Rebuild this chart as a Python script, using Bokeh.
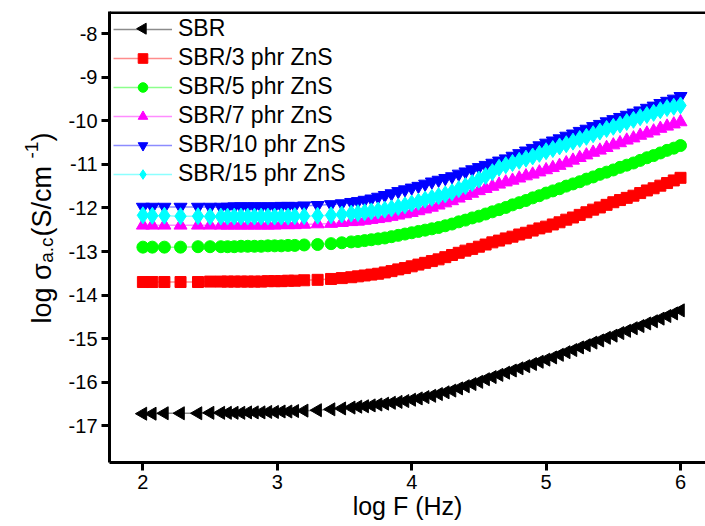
import math
from bokeh.plotting import figure
from bokeh.layouts import row
from bokeh.models import (Range1d, FixedTicker, Label, Legend, LegendItem, Span,
                          PrintfTickFormatter)
from bokeh.embed import file_html
from bokeh.resources import INLINE

# ---------------- data (log F in Hz, log sigma_ac in S/cm) ----------------
LOG_F = [2.00, 2.07, 2.16, 2.28, 2.41, 2.50, 2.58, 2.63, 2.68, 2.73,
         2.78, 2.83, 2.88, 2.93, 2.98, 3.03, 3.08, 3.13, 3.20, 3.30,
         3.40, 3.48, 3.55, 3.60, 3.65, 3.70, 3.75,
         3.80, 3.85, 3.90, 3.95, 4.00, 4.05, 4.10, 4.15, 4.20, 4.25,
         4.30, 4.35, 4.40, 4.45, 4.50, 4.55, 4.60, 4.65, 4.70, 4.75,
         4.80, 4.85, 4.90, 4.95, 5.00, 5.05, 5.10, 5.15, 5.20, 5.25,
         5.30, 5.35, 5.40, 5.45, 5.50, 5.55, 5.60, 5.65, 5.70, 5.75,
         5.80, 5.85, 5.90, 5.95, 6.00]

SBR = [-16.72, -16.72, -16.71, -16.71, -16.71, -16.70, -16.70, -16.70, -16.70, -16.70,
       -16.69, -16.69, -16.69, -16.68, -16.68, -16.67, -16.67, -16.66, -16.65, -16.64,
       -16.62, -16.60, -16.58, -16.56, -16.55, -16.53, -16.51,
       -16.49, -16.47, -16.45, -16.43, -16.40, -16.37, -16.34, -16.31, -16.27, -16.23,
       -16.19, -16.14, -16.09, -16.04, -15.99, -15.93, -15.88, -15.83, -15.78, -15.73,
       -15.68, -15.63, -15.58, -15.53, -15.48, -15.43, -15.37, -15.31, -15.26, -15.20,
       -15.15, -15.09, -15.04, -14.98, -14.93, -14.87, -14.82, -14.76, -14.71, -14.65,
       -14.60, -14.54, -14.48, -14.42, -14.35]

SBR_3 = [-13.70, -13.70, -13.70, -13.70, -13.70, -13.69, -13.69, -13.69, -13.69, -13.69,
         -13.69, -13.69, -13.69, -13.68, -13.68, -13.68, -13.67, -13.67, -13.66, -13.65,
         -13.63, -13.61, -13.59, -13.57, -13.55, -13.53, -13.51,
         -13.48, -13.45, -13.41, -13.38, -13.34, -13.30, -13.26, -13.22, -13.18, -13.13,
         -13.08, -13.03, -12.98, -12.94, -12.89, -12.84, -12.79, -12.75, -12.70, -12.66,
         -12.61, -12.57, -12.52, -12.47, -12.43, -12.38, -12.33, -12.27, -12.22, -12.16,
         -12.10, -12.04, -11.99, -11.93, -11.87, -11.82, -11.77, -11.72, -11.66, -11.60,
         -11.55, -11.49, -11.43, -11.37, -11.31]

SBR_5 = [-12.90, -12.90, -12.90, -12.90, -12.89, -12.89, -12.89, -12.89, -12.89, -12.88,
         -12.88, -12.88, -12.88, -12.87, -12.87, -12.87, -12.86, -12.86, -12.85, -12.84,
         -12.82, -12.80, -12.78, -12.77, -12.75, -12.73, -12.71,
         -12.69, -12.66, -12.63, -12.60, -12.57, -12.54, -12.51, -12.48, -12.45, -12.41,
         -12.37, -12.32, -12.28, -12.23, -12.19, -12.14, -12.09, -12.04, -11.99, -11.93,
         -11.88, -11.83, -11.77, -11.72, -11.66, -11.61, -11.56, -11.50, -11.45, -11.40,
         -11.34, -11.29, -11.23, -11.18, -11.13, -11.07, -11.02, -10.97, -10.91, -10.85,
         -10.80, -10.74, -10.68, -10.63, -10.57]

SBR_7 = [-12.40, -12.40, -12.40, -12.40, -12.40, -12.40, -12.40, -12.40, -12.40, -12.40,
         -12.40, -12.40, -12.40, -12.40, -12.40, -12.39, -12.39, -12.39, -12.38, -12.37,
         -12.36, -12.34, -12.32, -12.31, -12.29, -12.27, -12.25,
         -12.23, -12.20, -12.17, -12.14, -12.11, -12.07, -12.03, -11.99, -11.94, -11.89,
         -11.84, -11.78, -11.72, -11.67, -11.61, -11.56, -11.51, -11.46, -11.41, -11.37,
         -11.32, -11.27, -11.23, -11.18, -11.13, -11.08, -11.03, -10.97, -10.91, -10.85,
         -10.79, -10.73, -10.68, -10.62, -10.56, -10.51, -10.45, -10.40, -10.34, -10.29,
         -10.24, -10.18, -10.13, -10.08, -10.03]

SBR_10 = [-11.98, -11.98, -11.98, -11.98, -11.98, -11.98, -11.98, -11.98, -11.97, -11.97,
          -11.97, -11.97, -11.97, -11.97, -11.97, -11.96, -11.96, -11.96, -11.95, -11.94,
          -11.92, -11.90, -11.87, -11.85, -11.82, -11.79, -11.75,
          -11.71, -11.67, -11.62, -11.58, -11.54, -11.50, -11.45, -11.40, -11.36, -11.32,
          -11.28, -11.22, -11.17, -11.12, -11.07, -11.02, -10.97, -10.92, -10.87, -10.81,
          -10.75, -10.69, -10.63, -10.57, -10.51, -10.46, -10.41, -10.35, -10.30, -10.24,
          -10.19, -10.13, -10.08, -10.02, -9.97, -9.92, -9.87, -9.82, -9.77, -9.71,
          -9.66, -9.60, -9.55, -9.50, -9.44]

SBR_15 = [-12.17, -12.18, -12.18, -12.19, -12.19, -12.20, -12.20, -12.20, -12.20, -12.20,
          -12.20, -12.20, -12.20, -12.20, -12.20, -12.20, -12.20, -12.19, -12.19, -12.18,
          -12.17, -12.15, -12.13, -12.12, -12.10, -12.08, -12.06,
          -12.04, -12.01, -11.98, -11.94, -11.90, -11.86, -11.81, -11.77, -11.73, -11.69,
          -11.64, -11.57, -11.50, -11.43, -11.35, -11.27, -11.18, -11.08, -11.02, -10.97,
          -10.92, -10.87, -10.82, -10.76, -10.70, -10.65, -10.59, -10.54, -10.48, -10.42,
          -10.37, -10.31, -10.25, -10.19, -10.14, -10.09, -10.03, -9.98, -9.92, -9.87,
          -9.82, -9.76, -9.71, -9.68, -9.65]

SERIES_NAMES = ["SBR", "SBR/3 phr ZnS", "SBR/5 phr ZnS", "SBR/7 phr ZnS",
                "SBR/10 phr ZnS", "SBR/15 phr ZnS"]
SERIES_VALUES = [SBR, SBR_3, SBR_5, SBR_7, SBR_10, SBR_15]
X_TICKS = [2, 3, 4, 5, 6]
Y_TICKS = [-17, -16, -15, -14, -13, -12, -11, -10, -9, -8]
X_TITLE = "log F (Hz)"

# ---------------- styles / layout ----------------
COLORS = ["#000000", "#FF0000", "#00FF00", "#FF00FF", "#0000FF", "#00FFFF"]
MARKERS = ["triangle", "square", "circle", "triangle", "inverted_triangle", "diamond"]
ANGLES = [math.pi / 2, 0, 0, 0, 0, 0]
SIZES = [13, 11, 12, 13, 13, 17]

FONT = "Liberation Sans"
TOTAL_W, TOTAL_H = 705, 526
LEFT_W = 58                       # strip holding the rotated y title
W = TOTAL_W - LEFT_W
H = TOTAL_H
ML, MT, MB = 109 - LEFT_W, 11, 64
FRAME_W = W - ML
FRAME_H = H - MT - MB
FRAME_LEFT_PAGE = LEFT_W + ML     # page x of the frame's left edge
PX_PER_X = 134.4
PX_PER_Y = 43.6
X0 = 2 - (142.4 - FRAME_LEFT_PAGE) / PX_PER_X
X1 = X0 + FRAME_W / PX_PER_X
Y1 = -8 + (33 - MT) / PX_PER_Y
Y0 = Y1 - FRAME_H / PX_PER_Y


def dx(px):
    return X0 + (px - FRAME_LEFT_PAGE) / PX_PER_X


def dy(py):
    return Y1 - (py - MT) / PX_PER_Y


p = figure(width=W, height=H, output_backend="svg", toolbar_location=None,
           x_range=Range1d(X0, X1), y_range=Range1d(Y0, Y1),
           min_border_left=ML, min_border_right=0, min_border_top=MT,
           min_border_bottom=MB, background_fill_color="white",
           border_fill_color="white")
p.outline_line_color = None
p.xgrid.visible = False
p.ygrid.visible = False

for ax in (p.xaxis[0], p.yaxis[0]):
    ax.axis_line_width = 3
    ax.axis_line_color = "black"
    ax.major_tick_line_width = 3
    ax.major_tick_out = 8
    ax.major_tick_in = 0
    ax.minor_tick_out = 0
    ax.minor_tick_in = 0
    ax.major_label_text_font = FONT
    ax.major_label_text_font_size = "20px"
    ax.major_label_text_color = "black"
    ax.major_label_standoff = 4
    ax.formatter = PrintfTickFormatter(format="%d")
p.xaxis[0].ticker = FixedTicker(ticks=X_TICKS)
p.yaxis[0].ticker = FixedTicker(ticks=Y_TICKS)
p.xaxis[0].axis_label = X_TITLE
p.xaxis[0].axis_label_text_font = FONT
p.xaxis[0].axis_label_text_font_size = "25px"
p.xaxis[0].axis_label_text_font_style = "normal"
p.xaxis[0].axis_label_text_color = "black"
p.xaxis[0].axis_label_standoff = 0

# top frame line
p.add_layout(Span(location=dy(12), dimension="width", line_color="black", line_width=3))

items = []
for name, vals, col, mk, ang, sz in zip(SERIES_NAMES, SERIES_VALUES, COLORS,
                                         MARKERS, ANGLES, SIZES):
    rl = p.line(LOG_F, vals, line_color=col, line_width=1.5, line_alpha=0.45)
    rs = p.scatter(LOG_F, vals, marker=mk, size=sz, angle=ang,
                   fill_color=col, line_color=col, line_width=1)
    # the legend cannot rotate a marker, so SBR's left-pointing marker is drawn separately
    items.append(LegendItem(label=name, renderers=[rl] if ang else [rl, rs]))

LEG_MARGIN = 4
LEG_GLYPH_W = 59
LEG_TEXT_H = 26.4
legend = Legend(items=items, location="top_left",
                padding=0, margin=LEG_MARGIN, spacing=2,
                glyph_width=LEG_GLYPH_W, glyph_height=24, label_height=24,
                label_standoff=6, label_text_font=FONT,
                label_text_font_size="23px", label_text_color="black",
                border_line_alpha=0, background_fill_alpha=0)
p.add_layout(legend, "center")

# legend marker for SBR (left-pointing triangle), centred on the first legend row
p.scatter([dx(FRAME_LEFT_PAGE + LEG_MARGIN + LEG_GLYPH_W / 2)],
          [dy(MT + LEG_MARGIN + LEG_TEXT_H / 2)], marker="triangle",
          size=11, angle=math.pi / 2, fill_color=COLORS[0], line_color=COLORS[0])

# ---------------- rotated y-axis title: log σ_a.c (S/cm^-1) ----------------
# In a row, Bokeh aligns this strip's frame with the main frame (page y MT .. H-MB),
# so its y range is chosen such that data y == H - page y.
left = figure(width=LEFT_W, height=H, output_backend="svg", toolbar_location=None,
              x_range=Range1d(0, LEFT_W), y_range=Range1d(MB, H - MT),
              x_axis_type=None, y_axis_type=None, min_border=0,
              background_fill_color="white", border_fill_color="white")
left.outline_line_color = None

BASE_X = 41
START_Y = 323
pieces = [("log σ", 27, 0, 60.7),
          ("a.c", 19, 5, 26.3),
          (" (S/cm", 27, 0, 78.0),
          ("-1", 19, -10, 16.9),
          (")", 27, 0, 9.0)]
cur = START_Y
for txt, fs, shift, adv in pieces:
    left.add_layout(Label(x=BASE_X + shift, y=H - cur, text=txt, angle=math.pi / 2,
                          text_font=FONT, text_font_size=f"{fs}px", text_align="left",
                          text_baseline="alphabetic", text_color="black"))
    cur -= adv

layout = row(left, p)
open("out.html", "w").write(file_html(layout, INLINE))
